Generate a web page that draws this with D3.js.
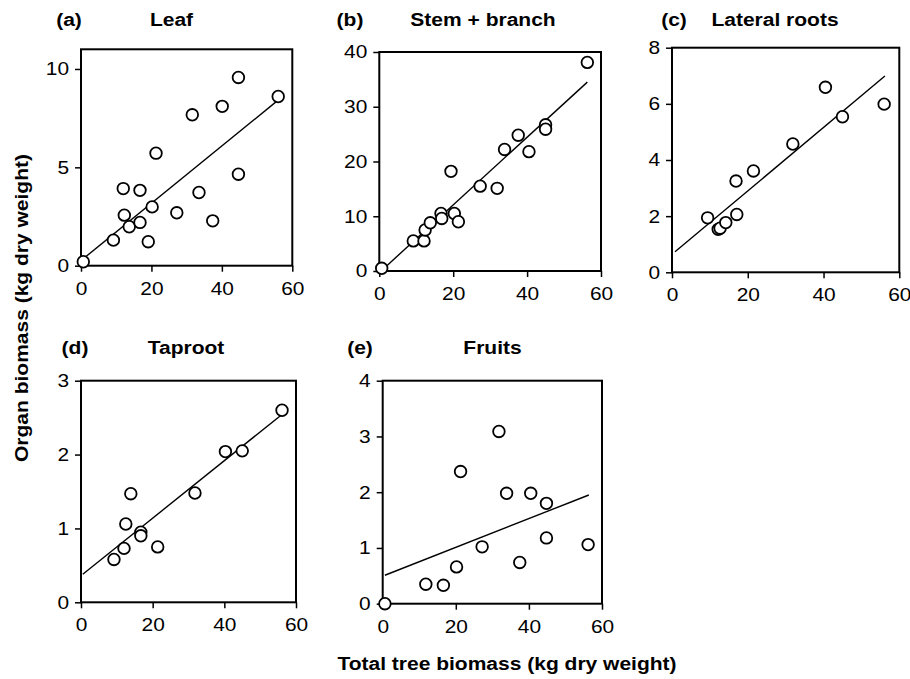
<!DOCTYPE html>
<html>
<head>
<meta charset="utf-8">
<script src="https://cdn.jsdelivr.net/npm/d3@7"></script>
<style>
  body { margin: 0; background: #fff; }
  text { font-family: 'Liberation Sans', Arial, sans-serif; fill: #000; }
</style>
</head>
<body>
<svg id="chart"></svg>
<script>
const panelLetters = ['(a)', '(b)', '(c)', '(d)', '(e)'];
const panelNames = ['Leaf', 'Stem + branch', 'Lateral roots', 'Taproot', 'Fruits'];
const xTicks = [0, 20, 40, 60];
const yMax = [11, 40, 8, 3, 4];
const yTicks = [
  [0, 5, 10],
  [0, 10, 20, 30, 40],
  [0, 2, 4, 6, 8],
  [0, 1, 2, 3],
  [0, 1, 2, 3, 4]
];

// [total tree biomass, organ biomass]
const leafPts = [
  [0.65, 0.2], [9.2, 1.3], [12.0, 3.92], [12.3, 2.57], [13.7, 1.98], [16.75, 3.83],
  [16.75, 2.2], [19.1, 1.22], [20.2, 2.99], [21.3, 5.72], [27.2, 2.69], [31.6, 7.67],
  [33.5, 3.72], [37.4, 2.28], [40.1, 8.1], [44.7, 9.57], [44.7, 4.65], [56.0, 8.6]
];
const stemPts = [
  [0.65, 0.49], [9.2, 5.5], [12.1, 5.5], [12.4, 7.5], [13.8, 8.8], [16.7, 10.5],
  [16.9, 9.6], [19.4, 18.2], [20.3, 10.5], [21.4, 9.0], [27.3, 15.5], [31.9, 15.1],
  [33.9, 22.2], [37.6, 24.8], [40.5, 21.8], [45.0, 26.7], [45.0, 25.9], [56.3, 38.1]
];
const lateralPts = [
  [9.4, 1.94], [12.2, 1.53], [12.7, 1.57], [14.2, 1.77], [17.1, 2.06], [16.9, 3.25],
  [21.5, 3.61], [31.9, 4.57], [40.5, 6.59], [45.0, 5.54], [56.0, 5.99]
];
const taprootPts = [
  [9.2, 0.58], [12.0, 0.73], [12.5, 1.06], [13.9, 1.47], [16.7, 0.95], [16.7, 0.9],
  [21.4, 0.75], [31.8, 1.48], [40.3, 2.04], [45.0, 2.05], [56.1, 2.6]
];
const fruitPts = [
  [0.6, 0.0], [11.8, 0.35], [16.6, 0.33], [20.2, 0.66], [21.3, 2.37], [27.2, 1.02],
  [31.8, 3.09], [33.9, 1.98], [37.5, 0.74], [40.5, 1.98], [44.8, 1.8], [44.8, 1.18],
  [56.2, 1.06]
];
const allPts = [leafPts, stemPts, lateralPts, taprootPts, fruitPts];

// fitted lines: [x start, y start, x end, y end]
const fitLines = [
  [0.2, 0.29, 55.8, 8.39],
  [0.8, 0.2, 56.3, 34.5],
  [0.8, 0.73, 56.2, 6.99],
  [0.5, 0.38, 56.0, 2.54],
  [0.6, 0.51, 56.4, 1.95]
];

// layout of each panel frame (pixels)
const boxes = [
  { l: 81, t: 49.3, r: 292.3, b: 265.7, labX: 69, nameX: 171.5, titleY: 26 },
  { l: 379.3, t: 52, r: 601, b: 271, labX: 350, nameX: 483, titleY: 26 },
  { l: 672, t: 47.7, r: 899.3, b: 272.3, labX: 674, nameX: 775, titleY: 26 },
  { l: 81, t: 380.7, r: 296, b: 602.3, labX: 75, nameX: 186, titleY: 354 },
  { l: 382.7, t: 380.7, r: 602, b: 603.7, labX: 360, nameX: 492.5, titleY: 354 }
];

const w = 910;
const h = 679;
const svg = d3.select('#chart').attr('width', w).attr('height', h);

// the reference type is wider than Arial at the same height
const stretch = (sel, k) => {
  sel.each(function () {
    const len = this.getComputedTextLength();
    d3.select(this).attr('textLength', len * k).attr('lengthAdjust', 'spacingAndGlyphs');
  });
};

const fmt = d3.format('~g');

boxes.forEach((b, i) => {
  const x = d3.scaleLinear().domain([0, 60]).range([b.l, b.r]);
  const y = d3.scaleLinear().domain([0, yMax[i]]).range([b.b, b.t]);
  const g = svg.append('g');

  const xAxis = g.append('g')
    .attr('transform', `translate(0,${b.b})`)
    .call(d3.axisBottom(x).tickValues(xTicks).tickFormat(fmt)
      .tickSize(6).tickSizeOuter(0).tickPadding(10));
  const yAxis = g.append('g')
    .attr('transform', `translate(${b.l},0)`)
    .call(d3.axisLeft(y).tickValues(yTicks[i]).tickFormat(fmt)
      .tickSize(6).tickSizeOuter(0).tickPadding(6));

  [xAxis, yAxis].forEach((ax) => {
    ax.select('.domain').remove();
    ax.selectAll('line').attr('stroke', '#000').attr('stroke-width', 1.5);
    ax.selectAll('text')
      .attr('font-size', '18.5px')
      .attr('font-family', "'Liberation Sans', Arial, sans-serif")
      .attr('fill', '#000');
  });
  xAxis.selectAll('text').attr('dy', '0.71em');
  stretch(xAxis.selectAll('text'), 1.13);
  stretch(yAxis.selectAll('text'), 1.13);

  g.append('rect')
    .attr('x', b.l).attr('y', b.t)
    .attr('width', b.r - b.l).attr('height', b.b - b.t)
    .attr('fill', 'none').attr('stroke', '#000').attr('stroke-width', 2);

  const f = fitLines[i];
  g.append('line')
    .attr('x1', x(f[0])).attr('y1', y(f[1]))
    .attr('x2', x(f[2])).attr('y2', y(f[3]))
    .attr('stroke', '#000').attr('stroke-width', 1.4);

  g.selectAll('circle')
    .data(allPts[i])
    .enter()
    .append('circle')
    .attr('cx', (d) => x(d[0]))
    .attr('cy', (d) => y(d[1]))
    .attr('r', 5.8)
    .attr('fill', '#fff')
    .attr('stroke', '#000')
    .attr('stroke-width', 1.8);

  const lab = g.append('text')
    .attr('x', b.labX).attr('y', b.titleY)
    .attr('text-anchor', 'middle')
    .attr('font-size', '17.5px').attr('font-weight', 'bold')
    .text(panelLetters[i]);
  const name = g.append('text')
    .attr('x', b.nameX).attr('y', b.titleY)
    .attr('text-anchor', 'middle')
    .attr('font-size', '17.5px').attr('font-weight', 'bold')
    .text(panelNames[i]);
  stretch(lab, 1.2);
  stretch(name, 1.2);
});

const xTitle = svg.append('text')
  .attr('x', 507).attr('y', 670)
  .attr('text-anchor', 'middle')
  .attr('font-size', '17.5px').attr('font-weight', 'bold')
  .text('Total tree biomass (kg dry weight)');
const yTitle = svg.append('text')
  .attr('transform', 'translate(28,308) rotate(-90)')
  .attr('text-anchor', 'middle')
  .attr('font-size', '17.5px').attr('font-weight', 'bold')
  .text('Organ biomass (kg dry weight)');
stretch(xTitle, 1.2);
stretch(yTitle, 1.2);
</script>
</body>
</html>
